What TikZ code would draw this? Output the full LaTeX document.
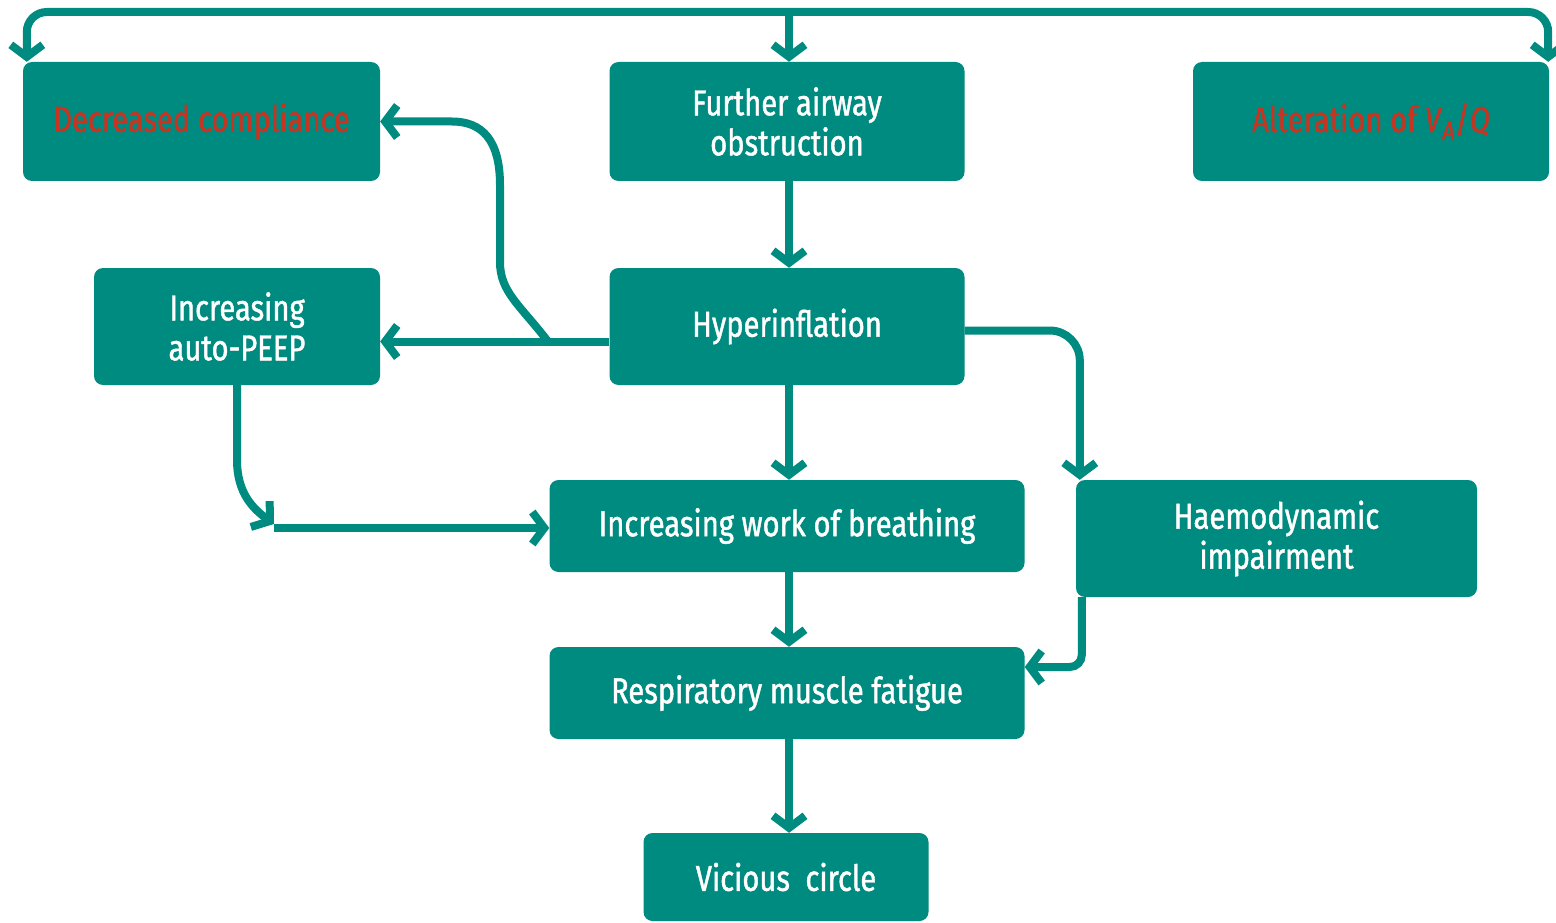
\documentclass[tikz,border=0pt]{standalone}
\usepackage{fontspec}
\setmainfont{Fira Sans}[FakeStretch=0.81, FakeBold=1.2]
\usetikzlibrary{arrows.meta}
\definecolor{flowteal}{RGB}{0,139,128}
\definecolor{flowred}{RGB}{200,52,34}

\begin{document}
\begin{tikzpicture}[x=1pt, y=-1pt, >={Straight Barb[length=12pt,width=32pt]},
  box/.style={fill=flowteal, rounded corners=9pt, text=white, align=center, inner sep=0pt,
    font=\fontsize{36}{40}\selectfont},
  link/.style={->, draw=flowteal, line width=8pt}]
\useasboundingbox (0,0) rectangle (1556,923);
\node[box, minimum width=357pt, minimum height=119pt, text=flowred] (dec) at (201.5,121.5) {Decreased compliance};
\node[box, minimum width=355pt, minimum height=119pt] (fao) at (787,121.5) {Further airway\\obstruction};
\node[box, minimum width=356pt, minimum height=119pt, text=flowred] (alt) at (1371,121.5) {Alteration of \textit{V}\raisebox{-8pt}{\fontsize{27}{27}\selectfont\textit{A}}/\textit{Q}};
\node[box, minimum width=286pt, minimum height=117pt] (peep) at (237,326.5) {Increasing\\auto-PEEP};
\node[box, minimum width=355pt, minimum height=117pt] (hyp) at (787,326.5) {Hyperinflation};
\node[box, minimum width=475pt, minimum height=92pt] (wob) at (787,526) {Increasing work of breathing};
\node[box, minimum width=401pt, minimum height=117pt] (haem) at (1276.5,538.5) {Haemodynamic\\impairment};
\node[box, minimum width=475pt, minimum height=92pt] (rmf) at (787,693) {Respiratory muscle fatigue};
\node[box, minimum width=285pt, minimum height=88pt] (vc) at (786,877) {Vicious~ circle};

\coordinate (loop) at (789,12);
\draw[link, rounded corners=20pt] (loop) -| ([xshift=4pt]dec.north west);
\draw[link, rounded corners=20pt] (loop) -| ([xshift=-1pt]alt.north east);
\draw[link] (loop) -- (loop |- fao.north);
\foreach \a/\b in {fao/hyp, hyp/wob, wob/rmf, rmf/vc}
  \draw[link] ([xshift=2pt]\a.south) -- ([xshift=2pt]\a.south |- \b.north);

\draw[link] ([yshift=-15pt]hyp.west) -- ([yshift=-15pt]peep.east);
\coordinate (branch) at (548,341.5);
\draw[link] (branch) .. controls (520,305) and (500,292) .. (500,262) -- (500,185)
  .. controls (500,140) and (482,121.5) .. (452,121.5) -- (dec.east);

\coordinate (join) at (274,524);
\draw[link] (peep.south) -- (237,460) .. controls (237,492) and (252,508) .. (join);
\draw[link] ([yshift=-2pt]join |- wob.west) -- ([yshift=-2pt]wob.west);

\draw[link, rounded corners=30pt] ([yshift=-4pt]hyp.east) -| ([xshift=4pt]haem.north west);
\draw[link, rounded corners=12pt] ([xshift=6pt]haem.south west) |- ([yshift=26pt]rmf.east);
\end{tikzpicture}
\end{document}
